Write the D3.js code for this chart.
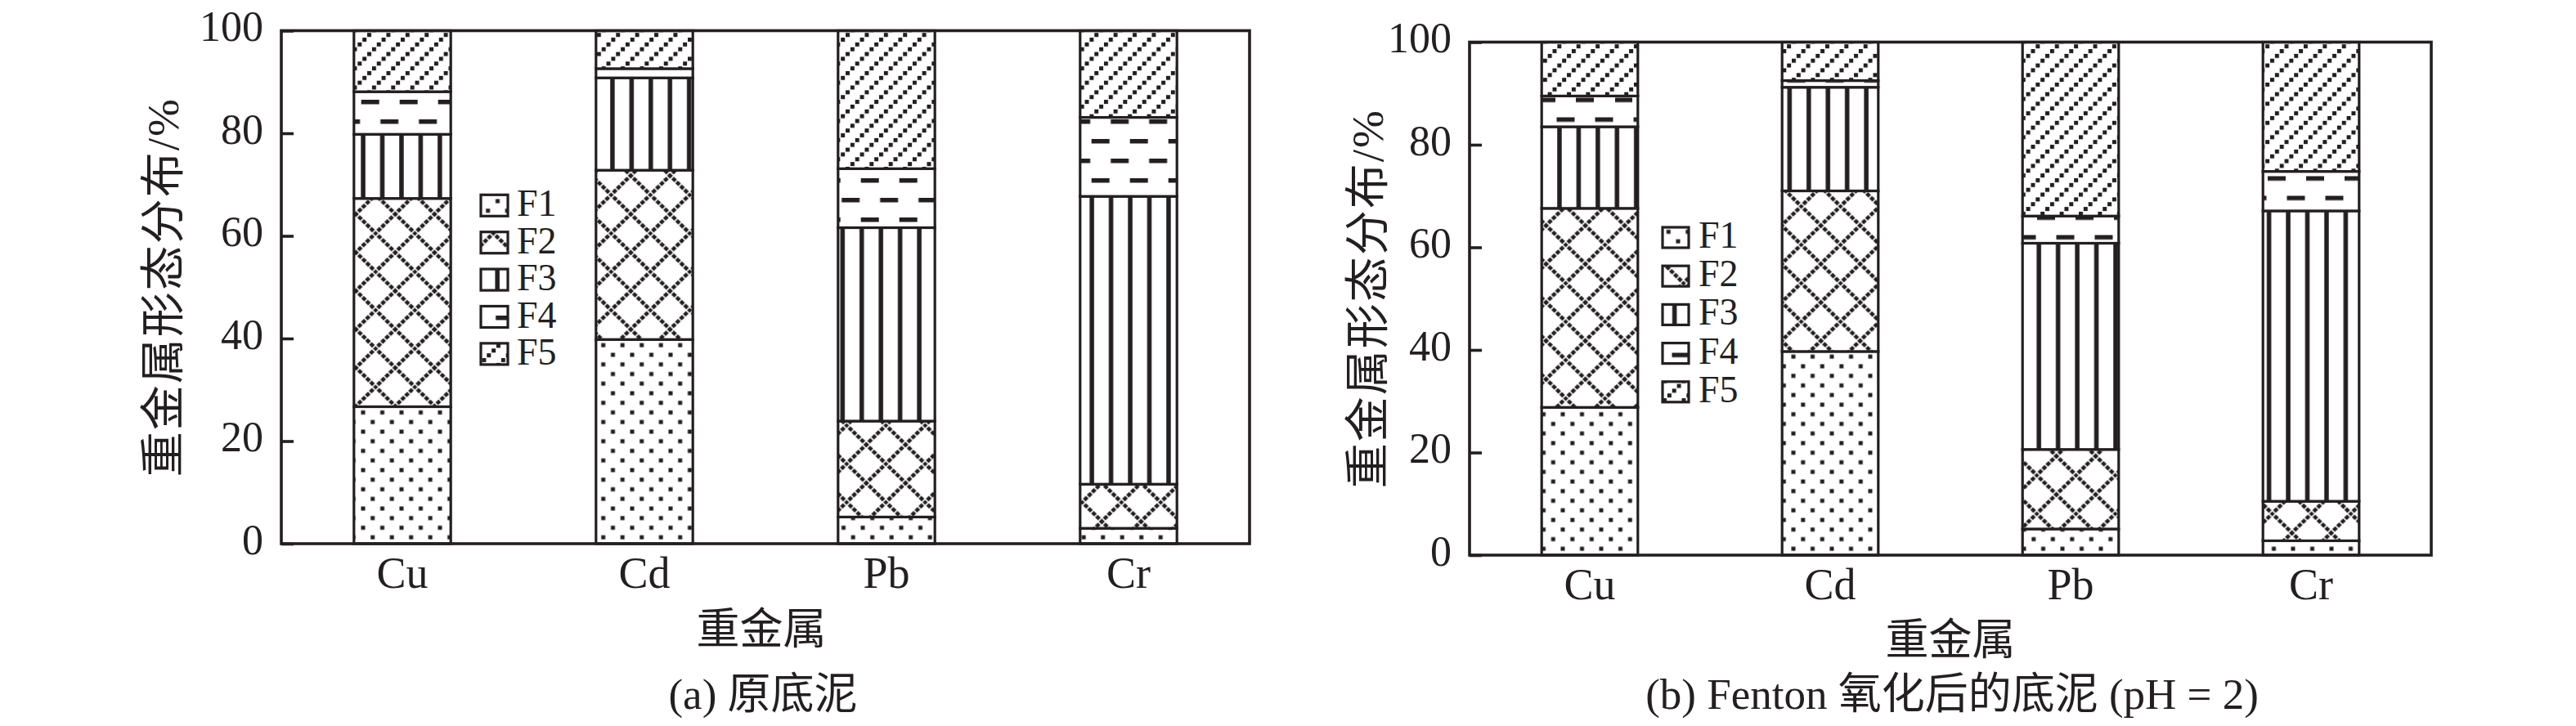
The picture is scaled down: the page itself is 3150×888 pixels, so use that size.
<!DOCTYPE html>
<html><head><meta charset="utf-8">
<script src="https://cdn.jsdelivr.net/npm/d3@7"></script>
<style>
body{margin:0;background:#fff}
text{font-family:"Liberation Serif","Times New Roman","Noto Sans CJK SC",serif;fill:#231f20}
</style>
</head><body><svg id="c" width="3150" height="888"></svg>
<script>
// ---------- data ----------
const metals = ["Cu", "Cd", "Pb", "Cr"];
const fractions = ["F1", "F2", "F3", "F4", "F5"];
const yTicks = [0, 20, 40, 60, 80, 100];
const yTitle = "重金属形态分布/%";
const xTitle = "重金属";

// (a) 原底泥  — percent of each fraction
const origF1 = [26.7, 39.8, 5.2, 3.0];
const origF2 = [40.6, 33.0, 18.7, 8.6];
const origF3 = [12.5, 18.0, 37.7, 56.1];
const origF4 = [8.3, 1.8, 11.5, 15.4];
const origF5 = [11.9, 7.4, 26.9, 16.9];
const captionA = "(a) 原底泥";

// (b) Fenton 氧化后的底泥 (pH = 2)
const fentF1 = [28.8, 39.7, 5.1, 2.8];
const fentF2 = [38.8, 31.3, 15.5, 7.7];
const fentF3 = [15.9, 20.2, 40.2, 56.6];
const fentF4 = [6.0, 1.3, 5.3, 7.7];
const fentF5 = [10.5, 7.5, 33.9, 25.2];
const captionB = "(b) Fenton 氧化后的底泥 (pH = 2)";

function rows(series) {
  return metals.map((m, i) => {
    const r = {metal: m};
    fractions.forEach((f, k) => r[f] = series[k][i]);
    return r;
  });
}

const INK = "#231f20";
const svg = d3.select("#c");
const defs = svg.append("defs");

// pattern factory (userSpaceOnUse, phase per panel)
function makePatterns(prefix, ox, oy) {
  // F1 dots
  let p = defs.append("pattern").attr("id", prefix + "F1").attr("patternUnits", "userSpaceOnUse")
    .attr("width", 23.5).attr("height", 23.5).attr("x", ox + 438.1).attr("y", oy + 569.1);
  p.append("rect").attr("width", 23.5).attr("height", 23.5).attr("fill", "#fff");
  p.append("rect").attr("x", 3.4).attr("y", 3.4).attr("width", 5).attr("height", 5).attr("fill", INK);
  p.append("rect").attr("x", 15.1).attr("y", 15.1).attr("width", 5).attr("height", 5).attr("fill", INK);
  // F2 diamond crosshatch
  p = defs.append("pattern").attr("id", prefix + "F2").attr("patternUnits", "userSpaceOnUse")
    .attr("width", 48).attr("height", 47).attr("x", ox + 459.3).attr("y", oy + 238.2);
  p.append("rect").attr("width", 48).attr("height", 47).attr("fill", "#fff");
  p.append("path").attr("d", "M-2,-1.96L50,48.96M50,-1.96L-2,48.96").attr("stroke", INK).attr("stroke-width", 4.6)
    .attr("stroke-dasharray", "5.2 1.6");
  // F3 vertical lines
  p = defs.append("pattern").attr("id", prefix + "F3").attr("patternUnits", "userSpaceOnUse")
    .attr("width", 23.45).attr("height", 10).attr("x", ox + (prefix === "a" ? 432.3 : -1455.3 + 1895.2)).attr("y", 0);
  p.append("rect").attr("width", 23.45).attr("height", 10).attr("fill", "#fff");
  p.append("rect").attr("x", 9).attr("width", 5.5).attr("height", 10).attr("fill", INK);
  // F4 dashes
  p = defs.append("pattern").attr("id", prefix + "F4").attr("patternUnits", "userSpaceOnUse")
    .attr("width", 47).attr("height", 48).attr("x", ox + (prefix === "a" ? 441.7 : -1455.3 + 1927)).attr("y", oy + (prefix === "a" ? 122 : -14 + 119.5));
  p.append("rect").attr("width", 47).attr("height", 48).attr("fill", "#fff");
  p.append("rect").attr("x", 0).attr("y", 0).attr("width", 22).attr("height", 5.5).attr("fill", INK);
  p.append("rect").attr("x", 23.5).attr("y", 24).attr("width", 22).attr("height", 5.5).attr("fill", INK);
  // F5 stepped diagonals
  p = defs.append("pattern").attr("id", prefix + "F5").attr("patternUnits", "userSpaceOnUse")
    .attr("width", 23.4).attr("height", 23.4).attr("x", ox + 431.5).attr("y", oy + 40.2);
  p.append("rect").attr("width", 23.4).attr("height", 23.4).attr("fill", "#fff");
  [[0, 17.55], [5.85, 11.7], [11.7, 5.85], [17.55, 0]].forEach(([x, y]) =>
    p.append("rect").attr("x", x).attr("y", y).attr("width", 5.0).attr("height", 5.0).attr("fill", INK));
}

const panels = [
  {id: "a", data: rows([origF1, origF2, origF3, origF4, origF5]), caption: captionA,
   x0: 344, x1: 1528, yb: 665, yt: 37.5, titleX: 197, xTitleX: 931, xTitleY: 788, capX: 933,
   leg: {x: 588, y: 238.3, dy: 45.4, w: 33, h: 26, tx: 632}, ox: 0, oy: 0},
  {id: "b", data: rows([fentF1, fentF2, fentF3, fentF4, fentF5]), caption: captionB,
   x0: 1797, x1: 2973, yb: 679, yt: 51.5, titleX: 1670, xTitleX: 2385, xTitleY: 801, capX: 2387,
   leg: {x: 2033, y: 278, dy: 47.2, w: 32, h: 25, tx: 2077}, ox: 1455.3, oy: 14}
];

const stack = d3.stack().keys(fractions);

panels.forEach(P => {
  makePatterns(P.id, P.ox, P.oy);
  const g = svg.append("g");
  const x = d3.scaleBand().domain(metals).range([P.x0, P.x1]).paddingInner(0.6).paddingOuter(0.3);
  const y = d3.scaleLinear().domain([0, 100]).range([P.yb, P.yt]);

  // bars
  const layers = stack(P.data);
  g.selectAll("g.layer").data(layers).join("g").attr("class", "layer")
    .attr("fill", d => `url(#${P.id}${d.key})`)
    .selectAll("rect").data(d => d).join("rect")
    .attr("x", d => x(d.data.metal))
    .attr("width", x.bandwidth())
    .attr("y", d => y(d[1]))
    .attr("height", d => y(d[0]) - y(d[1]))
    .attr("stroke", INK).attr("stroke-width", 3.2);

  // frame
  g.append("rect").attr("x", P.x0).attr("y", P.yt).attr("width", P.x1 - P.x0).attr("height", P.yb - P.yt)
    .attr("fill", "none").attr("stroke", INK).attr("stroke-width", 3.6);

  // y axis
  const ya = g.append("g").attr("transform", `translate(${P.x0},0)`)
    .call(d3.axisLeft(y).tickValues(yTicks).tickSize(-15).tickPadding(22).tickFormat(d3.format("d")));
  ya.select(".domain").remove();
  ya.selectAll("line").attr("stroke", INK).attr("stroke-width", 3.6);
  ya.selectAll("text").attr("font-size", 52).attr("dy", "0.237em").attr("fill", INK)
    .style("font-family", '"Liberation Serif",serif');

  // x axis
  const xa = g.append("g").attr("transform", `translate(0,${P.yb})`)
    .call(d3.axisBottom(x).tickSize(0).tickPadding(15.7));
  xa.select(".domain").remove();
  xa.selectAll("text").attr("font-size", 54).attr("fill", INK)
    .style("font-family", '"Liberation Serif",serif');

  // titles
  g.append("text").attr("transform", `translate(${P.titleX},${(P.yb + P.yt) / 2}) rotate(-90)`)
    .attr("text-anchor", "middle").attr("dy", "0.38em").attr("font-size", 55)
    .attr("letter-spacing", 2).text(yTitle);
  g.append("text").attr("x", P.xTitleX).attr("y", P.xTitleY).attr("text-anchor", "middle")
    .attr("font-size", 53).text(xTitle);
  g.append("text").attr("x", P.capX).attr("y", 867).attr("text-anchor", "middle")
    .attr("font-size", 53).text(P.caption);

  // legend
  const L = P.leg;
  const lg = g.selectAll("g.leg").data(fractions).join("g").attr("class", "leg");
  lg.append("rect").attr("x", L.x).attr("y", (d, i) => L.y + i * L.dy)
    .attr("width", L.w).attr("height", L.h)
    .attr("fill", d => `url(#${P.id}${d})`).attr("stroke", INK).attr("stroke-width", 3.2);
  lg.append("text").attr("x", L.tx).attr("y", (d, i) => L.y + i * L.dy + L.h)
    .attr("font-size", 46).text(d => d);
});
</script>
</body></html>
